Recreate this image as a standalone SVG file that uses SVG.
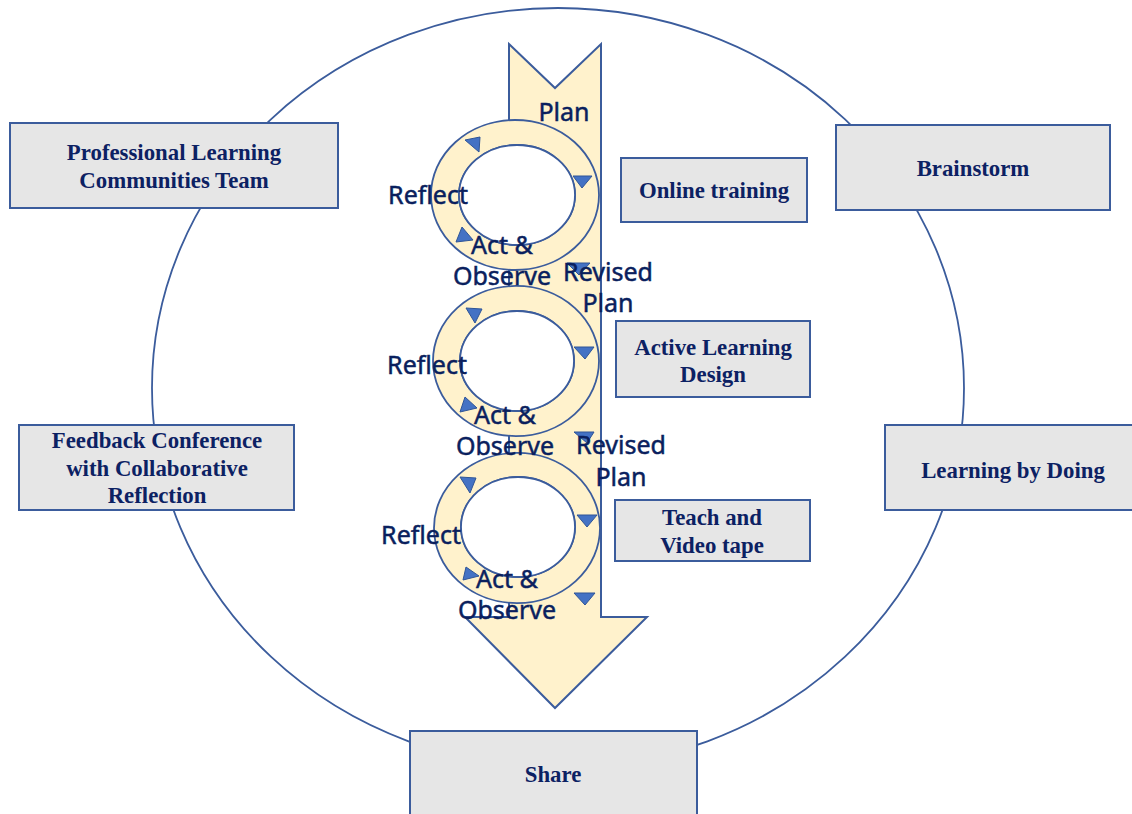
<svg xmlns="http://www.w3.org/2000/svg" width="1132" height="814" viewBox="0 0 1132 814">
  <style>
    .box rect { fill: #E6E6E6; stroke: #3B5C9C; stroke-width: 2; }
    .box text { font-family: "Liberation Serif", "Times New Roman", serif; font-weight: bold; font-size: 22.8px; fill: #0C2163; text-anchor: middle; }
    .ring { fill: #FFF2CC; fill-rule: evenodd; stroke: #3B5C9C; stroke-width: 1.8; }
    .tri { fill: #4472C4; stroke: #2F5597; stroke-width: 1; stroke-linejoin: round; }
    .lbl { font-family: "Noto Sans", "Open Sans", sans-serif; font-size: 25px; fill: #0A1F5E; stroke: #0A1F5E; stroke-width: 0.5; text-anchor: middle; }
  </style>

  <rect width="1132" height="814" fill="#FFFFFF"/>

  <!-- outer cycle -->
  <ellipse cx="558" cy="388" rx="406" ry="380" fill="none" stroke="#3B5C9C" stroke-width="1.8"/>

  <!-- downward process arrow -->
  <path d="M509,44 L555,88 L601,44 L601,617 L647,617 L555,708 L465,617 L509,617 Z" fill="#FFF2CC" stroke="#3B5C9C" stroke-width="2" stroke-linejoin="miter"/>

  <g id="connectors">
    <!-- cycle rings -->
    <path class="ring" d="M431,195 a84,75 0 1,0 168,0 a84,75 0 1,0 -168,0 Z M459,195 a58,50 0 1,1 116,0 a58,50 0 1,1 -116,0 Z"/>
    <path class="ring" d="M433,361 a83,75 0 1,0 166,0 a83,75 0 1,0 -166,0 Z M460,361 a57,50 0 1,1 114,0 a57,50 0 1,1 -114,0 Z"/>
    <path class="ring" d="M434,528 a83,75 0 1,0 166,0 a83,75 0 1,0 -166,0 Z M461,527 a57,50 0 1,1 114,0 a57,50 0 1,1 -114,0 Z"/>
    <ellipse cx="517" cy="195" rx="58" ry="50" fill="#FFFFFF" stroke="#3B5C9C" stroke-width="1.8"/>
    <ellipse cx="517" cy="361" rx="57" ry="50" fill="#FFFFFF" stroke="#3B5C9C" stroke-width="1.8"/>
    <ellipse cx="518" cy="527" rx="57" ry="50" fill="#FFFFFF" stroke="#3B5C9C" stroke-width="1.8"/>

    <!-- direction marks, ring 1 -->
    <polygon class="tri" points="465,140 480,137 479,152"/>
    <polygon class="tri" points="573,176 592,176 582,188"/>
    <polygon class="tri" points="456,242 462,227 473,240"/>
    <polygon class="tri" points="567,263 590,263 579,275"/>
    <!-- ring 2 -->
    <polygon class="tri" points="466,308 482,309 475,323"/>
    <polygon class="tri" points="574,347 594,347 585,359"/>
    <polygon class="tri" points="460,412 465,397 477,408"/>
    <polygon class="tri" points="574,432 594,432 587,443"/>
    <!-- ring 3 -->
    <polygon class="tri" points="460,477 476,478 470,493"/>
    <polygon class="tri" points="577,515 597,515 587,527"/>
    <polygon class="tri" points="463,580 466,567 479,576"/>
    <polygon class="tri" points="574,593 595,593 585,605"/>
  </g>

  <!-- cycle labels -->
  <g id="cycle-labels">
    <text class="lbl" x="564" y="121">Plan</text>
    <text class="lbl" x="428" y="204">Reflect</text>
    <text class="lbl" x="502" y="254">Act &amp;</text>
    <text class="lbl" x="502" y="285">Observe</text>
    <text class="lbl" x="608" y="281">Revised</text>
    <text class="lbl" x="608" y="312">Plan</text>

    <text class="lbl" x="427" y="374">Reflect</text>
    <text class="lbl" x="505" y="424">Act &amp;</text>
    <text class="lbl" x="505" y="455">Observe</text>
    <text class="lbl" x="621" y="454">Revised</text>
    <text class="lbl" x="621" y="486">Plan</text>

    <text class="lbl" x="421" y="544">Reflect</text>
    <text class="lbl" x="507" y="588">Act &amp;</text>
    <text class="lbl" x="507" y="619">Observe</text>
  </g>

  <!-- nodes -->
  <g id="plc-team" class="box">
    <rect x="10" y="123" width="328" height="85"/>
    <text x="174" y="160">Professional Learning</text>
    <text x="174" y="188">Communities Team</text>
  </g>
  <g id="online-training" class="box">
    <rect x="621" y="158" width="186" height="64"/>
    <text x="714" y="198">Online training</text>
  </g>
  <g id="brainstorm" class="box">
    <rect x="836" y="125" width="274" height="85"/>
    <text x="973" y="176">Brainstorm</text>
  </g>
  <g id="active-learning-design" class="box">
    <rect x="616" y="321" width="194" height="76"/>
    <text x="713" y="355">Active Learning</text>
    <text x="713" y="382">Design</text>
  </g>
  <g id="feedback-conference" class="box">
    <rect x="19" y="425" width="275" height="85"/>
    <text x="157" y="448">Feedback Conference</text>
    <text x="157" y="476">with Collaborative</text>
    <text x="157" y="503">Reflection</text>
  </g>
  <g id="learning-by-doing" class="box">
    <rect x="885" y="425" width="260" height="85"/>
    <text x="1013" y="478">Learning by Doing</text>
  </g>
  <g id="teach-video" class="box">
    <rect x="615" y="500" width="195" height="61"/>
    <text x="712" y="525">Teach and</text>
    <text x="712" y="553">Video tape</text>
  </g>
  <g id="share" class="box">
    <rect x="410" y="731" width="287" height="100"/>
    <text x="553" y="782">Share</text>
  </g>
</svg>
